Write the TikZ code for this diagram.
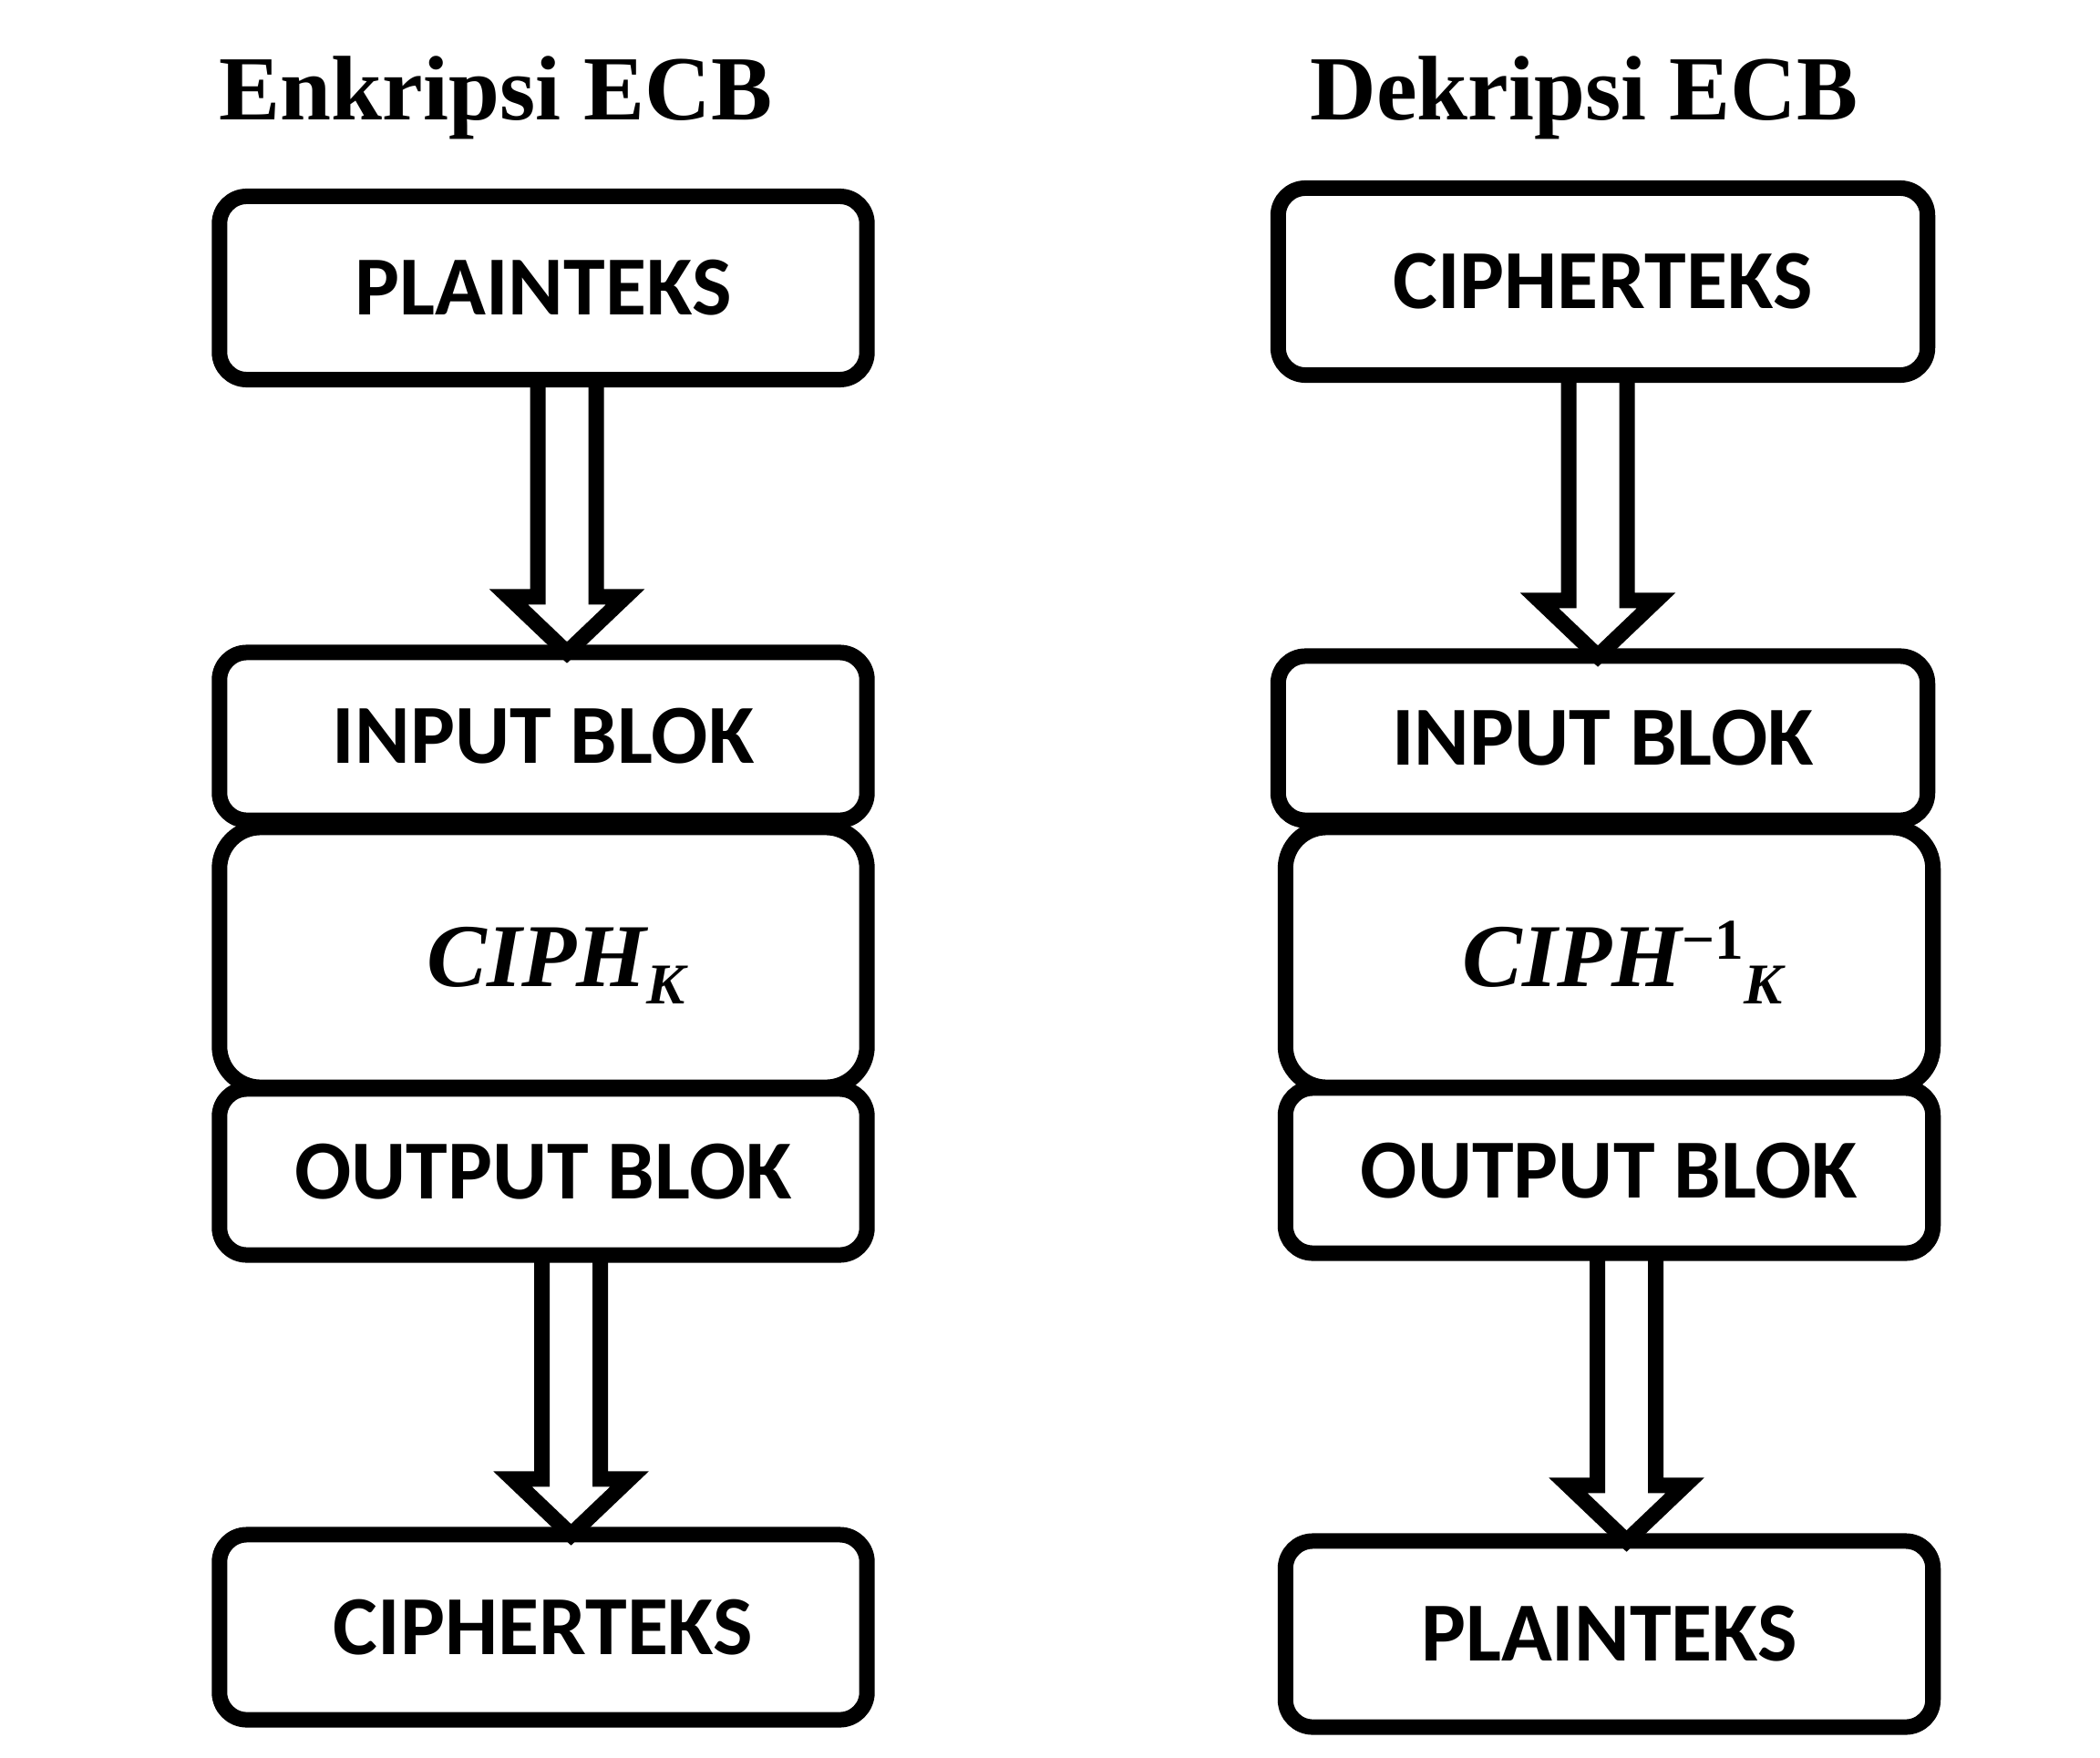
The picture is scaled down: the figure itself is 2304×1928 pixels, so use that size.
\documentclass[tikz,border=0pt]{standalone}
\usepackage{fontspec}
\setmainfont{Carlito}
\newfontfamily\serifbold{Liberation Serif}
\usetikzlibrary{calc}

% block-arrow outline from the bottom of box #1 to the top of box #2,
% its axis shifted by #3 units from the box centre
\newcommand\hollowarrow[3]{%
  \draw[arrowline]
    ($(#1.south)+(#3-32,0)$) -- ($(#2.north)+(#3-32,-61)$)
    -- ($(#2.north)+(#3-64,-61)$) -- ($(#2.north)+(#3,0)$)
    -- ($(#2.north)+(#3+64,-61)$) -- ($(#2.north)+(#3+32,-61)$)
    -- ($(#1.south)+(#3+32,0)$);}

\tikzset{
  box/.style={draw=black, line width=0.17cm, rounded corners=0.3cm,
    outer sep=0pt, inner sep=0pt, minimum width=7.1cm,
    font=\fontsize{26.2}{30}\selectfont\bfseries, text=black},
  cbox/.style={box, rounded corners=0.45cm},
  arrowline/.style={draw=black, line width=0.17cm, line join=miter},
  heading/.style={anchor=base, inner sep=0pt,
    font=\serifbold\bfseries\fontsize{28.6}{32}\selectfont},
  ciph/.style={font=\serifbold\bfseries\itshape\fontsize{28}{32}\selectfont}
}

\begin{document}
\begin{tikzpicture}[x=0.01cm, y=-0.01cm]
  \path[fill=white] (0,0) rectangle (2304,1928);
  \useasboundingbox (0,0) rectangle (2304,1928);

  % encryption column
  \node[heading] (encT) at (544,132) {Enkripsi ECB};
  \node[box, minimum height=2.01cm] (lP) at (596,316) {PLAINTEKS};
  \node[box, minimum height=1.84cm] (lIn) at (596,808) {INPUT BLOK};
  \node[cbox, minimum height=2.85cm, ciph] (lC) at (596,1050.5)
    {\hspace*{0.28cm}CIPH\smash{\raisebox{-0.19cm}{\fontsize{18}{20}\selectfont K}}};
  \node[box, minimum height=1.82cm] (lOut) at (596,1286) {OUTPUT BLOK};
  \node[box, minimum height=2.03cm] (lCt) at (596,1785.5) {CIPHERTEKS};

  \hollowarrow{lP}{lIn}{26}
  \hollowarrow{lOut}{lCt}{30.5}

  % decryption column
  \node[heading] (decT) at (1738,132) {Dekripsi ECB};
  \node[box, minimum width=7.12cm, minimum height=2.05cm] (rCt) at (1758.5,309) {CIPHERTEKS};
  \node[box, minimum width=7.12cm, minimum height=1.80cm] (rIn) at (1758.5,810) {INPUT BLOK};
  \node[cbox, minimum height=2.85cm, ciph] (rC) at (1765.5,1050.5)
    {\hspace*{0.29cm}CIPH\smash{\raisebox{0.30cm}{\upshape\fontsize{18}{20}\selectfont −1}}\smash{\raisebox{-0.19cm}{\fontsize{18}{20}\selectfont K}}};
  \node[box, minimum height=1.81cm] (rOut) at (1765.5,1284.5) {OUTPUT BLOK};
  \node[box, minimum height=2.04cm] (rP) at (1765.5,1793) {PLAINTEKS};

  \hollowarrow{rCt}{rIn}{-5.5}
  \hollowarrow{rOut}{rP}{19}
\end{tikzpicture}
\end{document}
